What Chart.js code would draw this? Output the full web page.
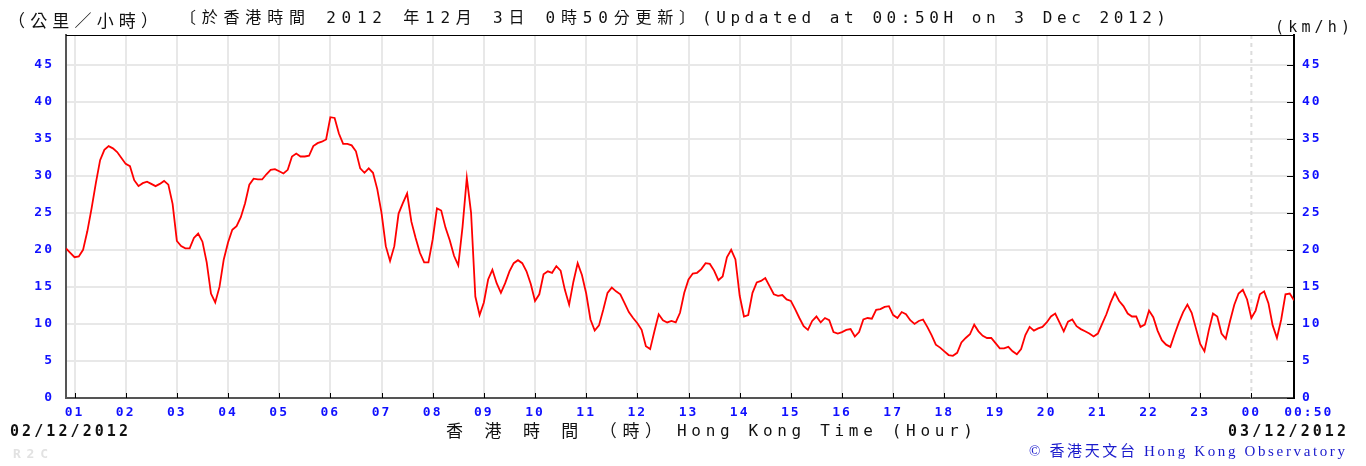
<!DOCTYPE html>
<html>
<head>
<meta charset="utf-8">
<script src="https://cdn.jsdelivr.net/npm/chart.js@4"></script>
<style>
  body { margin: 0; background: #fff; }
  #wrap { position: relative; width: 1366px; height: 466px; }
  #wind { position: absolute; left: 0; top: 0; }
  #labels { position: absolute; left: 0; top: 0; pointer-events: none; }
  #labels text { dominant-baseline: central; }
</style>
</head>
<body>
<div id="wrap">
  <canvas id="wind" width="1366" height="466"></canvas>
  <svg id="labels" width="1366" height="466">
    <g font-family="'DejaVu Sans Mono', 'Noto Sans CJK TC', monospace" fill="#111">
      <text x="8" y="21" font-size="17" textLength="150" lengthAdjust="spacing">（公里／小時）</text>
      <text x="180" y="17" font-size="16" textLength="515" lengthAdjust="spacing">〔於香港時間 2012 年12月 3日 0時50分更新〕</text>
      <text x="702" y="17" font-size="16" textLength="464" lengthAdjust="spacing">(Updated at 00:50H on 3 Dec 2012)</text>
      <text x="1275" y="27" font-size="15" textLength="75" lengthAdjust="spacing">(km/h)</text>
      <text x="10" y="431" font-size="15" font-weight="bold" textLength="118" lengthAdjust="spacing">02/12/2012</text>
      <text x="1228" y="431" font-size="15" font-weight="bold" textLength="118" lengthAdjust="spacing">03/12/2012</text>
      <text x="446" y="431" font-size="17" textLength="216" lengthAdjust="spacing">香 港 時 間 （時）</text>
      <text x="677" y="430" font-size="16" textLength="296" lengthAdjust="spacing">Hong Kong Time (Hour)</text>
      <text x="13" y="453" font-size="13" font-weight="bold" fill="#e2e2e2" textLength="35" lengthAdjust="spacing">R2C</text>
    </g>
    <text x="1029" y="451" font-family="'Liberation Serif', 'Noto Sans CJK TC', serif" font-size="15" fill="#1a1acc" textLength="316" lengthAdjust="spacing">© 香港天文台 Hong Kong Observatory</text>
  </svg>
</div>
<script>
// 10-min grid would miss the sharp spikes, so readings are every 5 minutes
const startMinute = 50;   // 00:50 on 02/12/2012
const stepMinutes = 5;
const windSpeed = [
  20.2, 19.6,
  19.0, 19.1, 20.0, 22.5, 25.6, 29.0, 32.1, 33.5, 34.0, 33.7, 33.2, 32.4,
  31.6, 31.3, 29.4, 28.6, 29.0, 29.2, 28.9, 28.6, 28.9, 29.3, 28.8, 26.2,
  21.2, 20.5, 20.2, 20.2, 21.6, 22.2, 21.1, 18.3, 14.1, 12.9, 15.0, 18.7,
  21.0, 22.7, 23.2, 24.4, 26.3, 28.8, 29.6, 29.5, 29.5, 30.2, 30.8, 30.9,
  30.6, 30.3, 30.8, 32.6, 33.0, 32.6, 32.6, 32.7, 34.0, 34.4, 34.6, 34.9,
  37.9, 37.8, 35.7, 34.3, 34.3, 34.1, 33.3, 31.0, 30.4, 31.0, 30.4, 28.2,
  25.0, 20.5, 18.5, 20.5, 24.9, 26.3, 27.6, 23.8, 21.6, 19.6, 18.3, 18.3,
  21.4, 25.6, 25.3, 23.0, 21.3, 19.2, 17.9, 23.1, 29.7, 25.0, 13.7, 11.2,
  12.9, 16.0, 17.3, 15.5, 14.2, 15.5, 17.1, 18.2, 18.6, 18.2, 17.1, 15.4,
  13.1, 14.0, 16.7, 17.1, 16.9, 17.8, 17.2, 14.6, 12.6, 15.7, 18.2, 16.6,
  14.1, 10.6, 9.1, 9.8, 11.9, 14.2, 14.9, 14.4, 14.0, 12.8, 11.6, 10.8,
  10.1, 9.2, 7.0, 6.6, 9.0, 11.3, 10.5, 10.2, 10.4, 10.2, 11.5, 14.2,
  16.0, 16.8, 16.9, 17.4, 18.2, 18.1, 17.2, 15.9, 16.4, 19.0, 20.0, 18.7,
  13.8, 11.0, 11.2, 14.2, 15.6, 15.8, 16.2, 15.1, 14.0, 13.8, 13.9, 13.3,
  13.1, 12.0, 10.8, 9.7, 9.2, 10.4, 11.0, 10.2, 10.8, 10.5, 8.9, 8.7,
  8.9, 9.2, 9.3, 8.3, 8.9, 10.6, 10.8, 10.7, 11.9, 12.0, 12.3, 12.4,
  11.2, 10.8, 11.6, 11.3, 10.5, 10.0, 10.4, 10.6, 9.6, 8.5, 7.2, 6.8,
  6.3, 5.8, 5.7, 6.1, 7.5, 8.1, 8.6, 9.9, 9.0, 8.4, 8.1, 8.1,
  7.4, 6.7, 6.7, 6.9, 6.3, 5.9, 6.6, 8.5, 9.6, 9.1, 9.4, 9.6,
  10.2, 11.0, 11.4, 10.2, 9.0, 10.3, 10.6, 9.7, 9.3, 9.0, 8.7, 8.3,
  8.7, 10.0, 11.3, 12.9, 14.2, 13.1, 12.4, 11.4, 11.0, 11.0, 9.6, 9.9,
  11.8, 10.9, 9.1, 7.8, 7.2, 6.9, 8.6, 10.2, 11.6, 12.6, 11.5, 9.4,
  7.3, 6.3, 9.1, 11.4, 11.0, 8.7, 8.0, 10.4, 12.6, 14.1, 14.6, 13.3,
  10.8, 11.8, 14.0, 14.4, 12.8, 9.8, 8.1, 10.6, 14.0, 14.1, 13.2
];

const hourLabels = ['01','02','03','04','05','06','07','08','09','10','11','12',
                    '13','14','15','16','17','18','19','20','21','22','23','00'];
const endMinute = 1490;   // 00:50 on 03/12/2012
const endLabel = '00:50';
const yTicks = [0, 5, 10, 15, 20, 25, 30, 35, 40, 45];
const yMax = 49;

const blue = '#1010ff';
const tickFont = { family: "'DejaVu Sans Mono', monospace", size: 13, weight: 'bold' };

let points = windSpeed.map(function (v, i) {
  return { x: startMinute + i * stepMinutes, y: v };
});

let xTickValues = hourLabels.map(function (l, i) { return (i + 1) * 60; });
xTickValues.push(endMinute);

function xLabel(value) {
  if (value == endMinute) return '   ' + endLabel;
  let i = Math.round(value / 60) - 1;
  return hourLabels[i];
}

const extras = {
  id: 'extras',
  beforeDraw(chart) {
    chart.ctx.letterSpacing = '2px';
  },
  beforeDatasetsDraw(chart) {
    const ctx = chart.ctx;
    const a = chart.chartArea;
    const x = chart.scales.x.getPixelForValue(1440);
    ctx.save();
    ctx.strokeStyle = '#dcdcdc';
    ctx.lineWidth = 2;
    ctx.setLineDash([4, 4]);
    ctx.beginPath();
    ctx.moveTo(x, a.top);
    ctx.lineTo(x, a.bottom);
    ctx.stroke();
    ctx.restore();
  },
  afterDraw(chart) {
    const ctx = chart.ctx;
    const a = chart.chartArea;
    ctx.save();
    ctx.letterSpacing = '0px';
    ctx.strokeStyle = '#000';
    ctx.lineWidth = 1;
    ctx.beginPath();
    ctx.moveTo(a.left, a.top + 0.5);
    ctx.lineTo(a.right, a.top + 0.5);
    // small inside ticks on the time axis
    xTickValues.forEach(function (v) {
      if (v == endMinute) return;
      let px = Math.round(chart.scales.x.getPixelForValue(v)) + 0.5;
      ctx.moveTo(px, a.bottom);
      ctx.lineTo(px, a.bottom - 5);
    });
    // inside ticks on the right axis
    yTicks.forEach(function (v) {
      let py = Math.round(chart.scales.y2.getPixelForValue(v)) + 0.5;
      ctx.moveTo(a.right, py);
      ctx.lineTo(a.right - 7, py);
    });
    ctx.stroke();
    ctx.restore();
  }
};

new Chart(document.getElementById('wind'), {
  type: 'line',
  data: {
    datasets: [{
      data: points,
      borderColor: '#ff0000',
      borderWidth: 1.8,
      pointRadius: 0,
      tension: 0,
      fill: false
    }]
  },
  options: {
    responsive: false,
    animation: false,
    events: [],
    layout: { padding: { top: 35 } },
    plugins: { legend: { display: false }, tooltip: { enabled: false } },
    scales: {
      x: {
        type: 'linear',
        min: startMinute,
        max: endMinute,
        afterBuildTicks: function (scale) {
          scale.ticks = xTickValues.map(function (v) { return { value: v }; });
        },
        afterFit: function (scale) { scale.height = 68; },
        ticks: {
          autoSkip: false,
          maxRotation: 0,
          padding: 7,
          color: blue,
          font: tickFont,
          callback: xLabel
        },
        grid: {
          drawTicks: false,
          lineWidth: 2,
          color: function (c) {
            if (c.tick && (c.tick.value == 1440 || c.tick.value == endMinute)) return 'rgba(0,0,0,0)';
            return '#e8e8e8';
          }
        },
        border: { color: '#555', width: 2 }
      },
      y: {
        position: 'left',
        min: 0,
        max: yMax,
        afterBuildTicks: function (scale) {
          scale.ticks = yTicks.map(function (v) { return { value: v }; });
        },
        afterFit: function (scale) { scale.width = 66; },
        ticks: { padding: 12, color: blue, font: tickFont },
        grid: { drawTicks: false, color: '#e8e8e8', lineWidth: 2 },
        border: { color: '#555', width: 2 }
      },
      y2: {
        position: 'right',
        min: 0,
        max: yMax,
        afterBuildTicks: function (scale) {
          scale.ticks = yTicks.map(function (v) { return { value: v }; });
        },
        afterFit: function (scale) { scale.width = 72; },
        ticks: { padding: 8, color: blue, font: tickFont },
        grid: { drawOnChartArea: false, drawTicks: false },
        border: { color: '#000', width: 2 }
      }
    }
  },
  plugins: [extras]
});
</script>
</body>
</html>
